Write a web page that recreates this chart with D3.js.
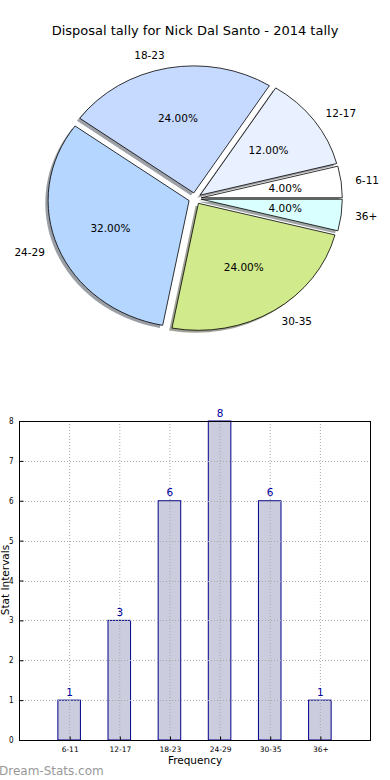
<!DOCTYPE html>
<html><head><meta charset="utf-8">
<script src="https://cdn.jsdelivr.net/npm/d3@7"></script>
<style>
html,body{margin:0;padding:0;background:#fff;}
svg{display:block;font-family:"DejaVu Sans",sans-serif;}
</style></head>
<body>
<svg id="chart" width="390" height="780"></svg>
<script>
const title = "Disposal tally for Nick Dal Santo - 2014 tally";
const categories = ["6-11","12-17","18-23","24-29","30-35","36+"];
const counts = [1,3,6,8,6,1];
const pieColors = ["#ffffff","#e9f0ff","#c6d9ff","#b5d6ff","#d1ea8c","#d9ffff"];
const yTicks = [0,1,2,3,4,5,6,7,8];
const xLabel = "Frequency";
const yLabel = "Stat Intervals";
const watermark = "Dream-Stats.com";

(function(){
const svg = d3.select("#chart");

// ---------- Pie ----------
svg.append("text").attr("x",195).attr("y",34.5).attr("text-anchor","middle")
  .attr("font-size","13px").attr("fill","#000").text(title);

const cx = 195, cy = 198.5, sx = 141, sy = 127, R = 100, explode = 0.045;
const pie = d3.pie().sort(null).startAngle(Math.PI/2).endAngle(Math.PI/2 - 2*Math.PI);
const arcs = pie(counts);
const arc = d3.arc().innerRadius(0).outerRadius(R);
const total = d3.sum(counts);

function off(d, k){
  const a = (d.startAngle + d.endAngle)/2;
  return [cx + sx*k*Math.sin(a), cy - sy*k*Math.cos(a)];
}
const pg = svg.append("g");
pg.selectAll("path.sh").data(arcs).enter().append("path")
  .attr("class","sh")
  .attr("d", arc)
  .attr("transform", d => { const [x,y] = off(d, explode); return `translate(${x-0.02*sx},${y+0.02*sy}) scale(${sx/R},${sy/R})`; })
  .attr("fill", (d,i) => { const c = d3.rgb(pieColors[i]); return d3.rgb(c.r*0.3,c.g*0.3,c.b*0.3).toString(); })
  .attr("fill-opacity", 0.5);
pg.selectAll("path.w").data(arcs).enter().append("path")
  .attr("class","w")
  .attr("d", arc)
  .attr("transform", d => { const [x,y] = off(d, explode); return `translate(${x},${y}) scale(${sx/R},${sy/R})`; })
  .attr("fill", (d,i) => pieColors[i])
  .attr("stroke","#000").attr("stroke-width",0.8)
  .attr("vector-effect","non-scaling-stroke");
pg.selectAll("text.lab").data(arcs).enter().append("text")
  .attr("class","lab")
  .each(function(d,i){
    const a = (d.startAngle + d.endAngle)/2;
    const [x,y] = off(d, explode + 1.1);
    d3.select(this).attr("x", x).attr("y", y).attr("dy","0.35em")
      .attr("text-anchor", Math.sin(a) > 0 ? "start" : "end")
      .attr("font-size","10.5px").text(categories[i]);
  });
pg.selectAll("text.pct").data(arcs).enter().append("text")
  .attr("class","pct")
  .each(function(d,i){
    const [x,y] = off(d, explode + 0.6);
    d3.select(this).attr("x", x).attr("y", y).attr("dy","0.35em")
      .attr("text-anchor","middle").attr("font-size","10.5px")
      .text(d3.format(".2f")(counts[i]/total*100) + "%");
  });

// ---------- Bar ----------
const pL = 19, pR = 370, pT = 421, pB = 740;
const x = d3.scaleLinear().domain([-1, categories.length]).range([pL, pR]);
const y = d3.scaleLinear().domain([0, 8]).range([pB, pT]);
const bw = 0.45;
const bg = svg.append("g");

bg.selectAll("rect.bar").data(counts).enter().append("rect")
  .attr("class","bar")
  .attr("x", (d,i) => x(i - bw/2)).attr("width", x(bw) - x(0))
  .attr("y", d => y(d)).attr("height", d => y(0) - y(d))
  .attr("fill","#ccccdf").attr("stroke","#00008b").attr("stroke-width",1);

bg.selectAll("line.gx").data(categories).enter().append("line")
  .attr("x1",(d,i)=>x(i)+0.5).attr("x2",(d,i)=>x(i)+0.5).attr("y1",pT).attr("y2",pB)
  .attr("stroke","#a8a8a8").attr("stroke-width",1).attr("stroke-dasharray","1,2");
bg.selectAll("line.gy").data(yTicks).enter().append("line")
  .attr("x1",pL).attr("x2",pR).attr("y1",d=>Math.round(y(d))+0.5).attr("y2",d=>Math.round(y(d))+0.5)
  .attr("stroke","#a8a8a8").attr("stroke-width",1).attr("stroke-dasharray","1,2");

bg.append("rect").attr("x",pL+0.5).attr("y",pT+0.5).attr("width",pR-pL).attr("height",pB-pT)
  .attr("fill","none").attr("stroke","#000").attr("stroke-width",1);

const yAxis = d3.axisLeft(y).tickValues(yTicks).tickSize(-4).tickPadding(6).tickFormat(d3.format("d"));
const gy = bg.append("g").attr("transform",`translate(${pL+0.5},0)`).call(yAxis);
gy.select(".domain").remove();
gy.selectAll(".tick line").attr("stroke","#000");
gy.selectAll("text").attr("font-size","8px").attr("font-family","DejaVu Sans Condensed, DejaVu Sans").attr("fill","#000");

const xAxis = d3.axisBottom(x).tickValues(d3.range(categories.length)).tickSize(-4).tickPadding(6)
  .tickFormat(i => categories[i]);
const gx = bg.append("g").attr("transform",`translate(0.5,${pB+0.5})`).call(xAxis);
gx.select(".domain").remove();
gx.selectAll(".tick line").attr("stroke","#000");
gx.selectAll("text").attr("font-size","7.5px").attr("font-family","DejaVu Sans").attr("fill","#000");

bg.selectAll("text.val").data(counts).enter().append("text")
  .attr("class","val")
  .attr("x",(d,i)=>x(i)+0.5).attr("y", d => y(d) - 4.5)
  .attr("text-anchor","middle").attr("font-size","10.5px").attr("fill","#0000a0")
  .text(d => d);

svg.append("text").attr("x",195).attr("y",764).attr("text-anchor","middle")
  .attr("font-size","10.5px").text(xLabel);
svg.append("text").attr("transform","translate(9,580) rotate(-90)").attr("text-anchor","middle")
  .attr("font-size","10.5px").text(yLabel);

svg.append("text").attr("x",-1).attr("y",775).attr("font-size","12px")
  .attr("fill","#999999").text(watermark);
})();
</script>
</body></html>
